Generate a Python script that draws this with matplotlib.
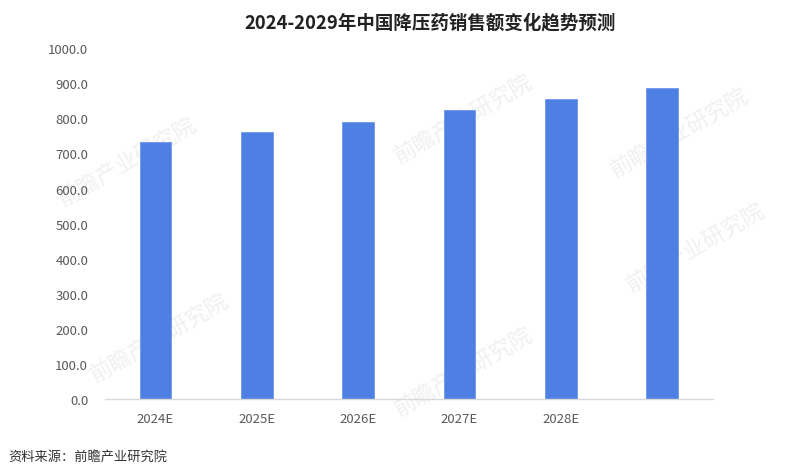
import matplotlib
matplotlib.use("Agg")
import matplotlib.pyplot as plt

plt.rcParams['font.family'] = ['Noto Sans CJK SC', 'DejaVu Sans']

# 数据
years = ["2024E", "2025E", "2026E", "2027E", "2028E", "2029E"]
tick_labels = ["2024E", "2025E", "2026E", "2027E", "2028E", ""]
sales = [733, 761, 790, 823, 855, 887]
y_ticks = [0, 100, 200, 300, 400, 500, 600, 700, 800, 900, 1000]

fig = plt.figure(figsize=(8, 4.77), dpi=100)
ax = fig.add_axes([0.131, 0.161, 0.76, 0.736])
ax.patch.set_alpha(0)

x = list(range(len(years)))
ax.bar(x, sales, width=0.31, color='#4e7fe3', edgecolor='#6f97ea', linewidth=0.6, zorder=2)

ax.set_xlim(-0.5, 5.5)
ax.set_ylim(0, 1000)
ax.set_yticks(y_ticks)
ax.set_yticklabels([f"{v:.1f}" for v in y_ticks])
ax.set_xticks(x)
ax.set_xticklabels(tick_labels)

for s in ['top', 'right', 'left']:
    ax.spines[s].set_visible(False)
ax.spines['bottom'].set_color('#d9d9d9')
ax.spines['bottom'].set_linewidth(1.0)
ax.tick_params(axis='both', length=0, colors='#595959', labelsize=9.5)
ax.tick_params(axis='y', pad=12)
ax.tick_params(axis='x', pad=9)

# 水印
for wx, wy in [(0.16, 0.66), (0.58, 0.75), (0.85, 0.72), (0.2, 0.29), (0.58, 0.22), (0.87, 0.48)]:
    fig.text(wx, wy, "前瞻产业研究院", fontsize=16, color='#f0f0f0', rotation=30,
             ha='center', va='center', zorder=-1)

fig.text(0.538, 0.952, "2024-2029年中国降压药销售额变化趋势预测", ha='center', va='center',
         fontsize=13.3, fontweight='bold', color='#222222')
fig.text(0.01, 0.042, "资料来源：前瞻产业研究院", ha='left', va='center',
         fontsize=9.5, color='#333333')

fig.savefig("out.png", dpi=100)
